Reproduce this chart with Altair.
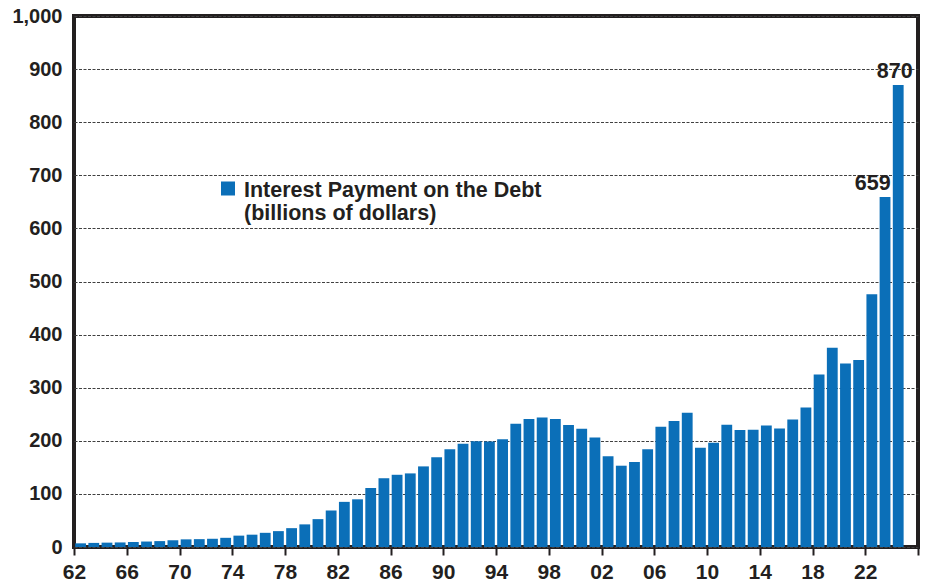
import altair as alt
import pandas as pd

# Net interest paid on federal debt, fiscal years 1962-2024 (billions of dollars)
years = list(range(1962, 2025))
interest = [
    6.9, 7.7, 8.2, 8.6, 9.4, 10.3, 11.1, 12.7,
    14.4, 14.8, 15.5, 17.3, 21.4, 23.2, 26.7, 29.9, 35.5, 42.6,
    52.5, 68.8, 85.0, 89.8, 111.1, 129.5, 136.0, 138.6, 151.8, 169.0,
    184.3, 194.4, 199.3, 198.7, 202.9, 232.1, 241.1, 244.0, 241.1, 229.8,
    222.9, 206.2, 170.9, 153.1, 160.2, 184.0, 226.6, 237.1, 252.8, 186.9,
    196.2, 230.0, 220.4, 220.9, 229.0, 223.2, 240.0, 262.6, 325.0, 375.2,
    345.5, 352.3, 475.9, 659.0, 870.0,
]
x_tick_years = list(range(1962, 2027, 4))
y_ticks = list(range(0, 1001, 100))
legend_lines = ["Interest Payment on the Debt", "(billions of dollars)"]

df = pd.DataFrame({"year": years, "interest": interest})

FONT = "Liberation Sans"
INK = "#231f20"
BLUE = "#0b6fb8"
Y_LABEL_SIZE = 20
X_LABEL_SIZE = 21
TEXT_SIZE = 21.5

x_scale = alt.Scale(domain=[1962, 2026], nice=False, zero=False, padding=0)
y_scale = alt.Scale(domain=[0, 1000], nice=False, padding=0)

x_axis = alt.Axis(
    values=x_tick_years,
    labelExpr="datum.value == 2026 ? '' : substring(toString(datum.value), 2, 4)",
    domain=False,
    grid=False,
    ticks=True,
    tickSize=8,
    tickWidth=2,
    tickColor=INK,
    labelPadding=6,
    labelFont=FONT,
    labelFontSize=X_LABEL_SIZE,
    labelFontWeight="bold",
    labelColor=INK,
    labelFlush=False,
    labelOverlap=False,
    title=None,
)

y_axis = alt.Axis(
    values=y_ticks,
    format=",d",
    domain=False,
    ticks=False,
    labelPadding=12,
    grid=True,
    gridDash=[3, 1.5],
    gridColor="#404040",
    gridWidth=1,
    labelFont=FONT,
    labelFontSize=Y_LABEL_SIZE,
    labelFontWeight="bold",
    labelColor=INK,
    title=None,
)

base = alt.Chart(df)

bars = base.transform_calculate(
    x0="datum.year + 0.09", x1="datum.year + 0.91"
).mark_bar(color=BLUE, orient="vertical").encode(
    x=alt.X("x0:Q", scale=x_scale, axis=x_axis),
    x2="x1:Q",
    y=alt.Y("interest:Q", scale=y_scale, axis=y_axis),
    y2=alt.datum(0),
)

text_style = dict(font=FONT, fontSize=TEXT_SIZE, fontWeight="bold", color=INK,
                  baseline="alphabetic", dy=-7)

# value callouts over the last two bars
label_2023 = base.transform_filter("datum.year == 2023").transform_calculate(
    xr="datum.year + 0.93"
).mark_text(align="right", **text_style).encode(
    x=alt.X("xr:Q", scale=x_scale),
    y=alt.Y("interest:Q", scale=y_scale),
    text=alt.Text("interest:Q", format=".0f"),
)

label_2024 = base.transform_filter("datum.year == 2024").transform_calculate(
    xc="datum.year + 0.5"
).mark_text(align="center", dx=-3.5, **text_style).encode(
    x=alt.X("xc:Q", scale=x_scale),
    y=alt.Y("interest:Q", scale=y_scale),
    text=alt.Text("interest:Q", format=".0f"),
)

legend_src = alt.Chart(pd.DataFrame({"series": ["interest"]}))

legend_swatch = legend_src.mark_square(size=196, color=BLUE, opacity=1).encode(
    x=alt.value(154), y=alt.value(172.5)
)

legend_text = legend_src.mark_text(
    text=legend_lines, align="left", baseline="alphabetic", lineHeight=23,
    font=FONT, fontSize=TEXT_SIZE, fontWeight="bold", color=INK,
).encode(x=alt.value(170), y=alt.value(181))

chart = alt.layer(
    bars, label_2023, label_2024, legend_swatch, legend_text
).properties(
    width=844,
    height=531,
    autosize=alt.AutoSizeParams(type="none"),
    padding={"left": 74, "top": 16, "right": 9, "bottom": 35},
    background="white",
).configure_view(
    stroke=INK, strokeWidth=4
)

chart.save("out.html", embed_options={"renderer": "svg", "actions": False})
